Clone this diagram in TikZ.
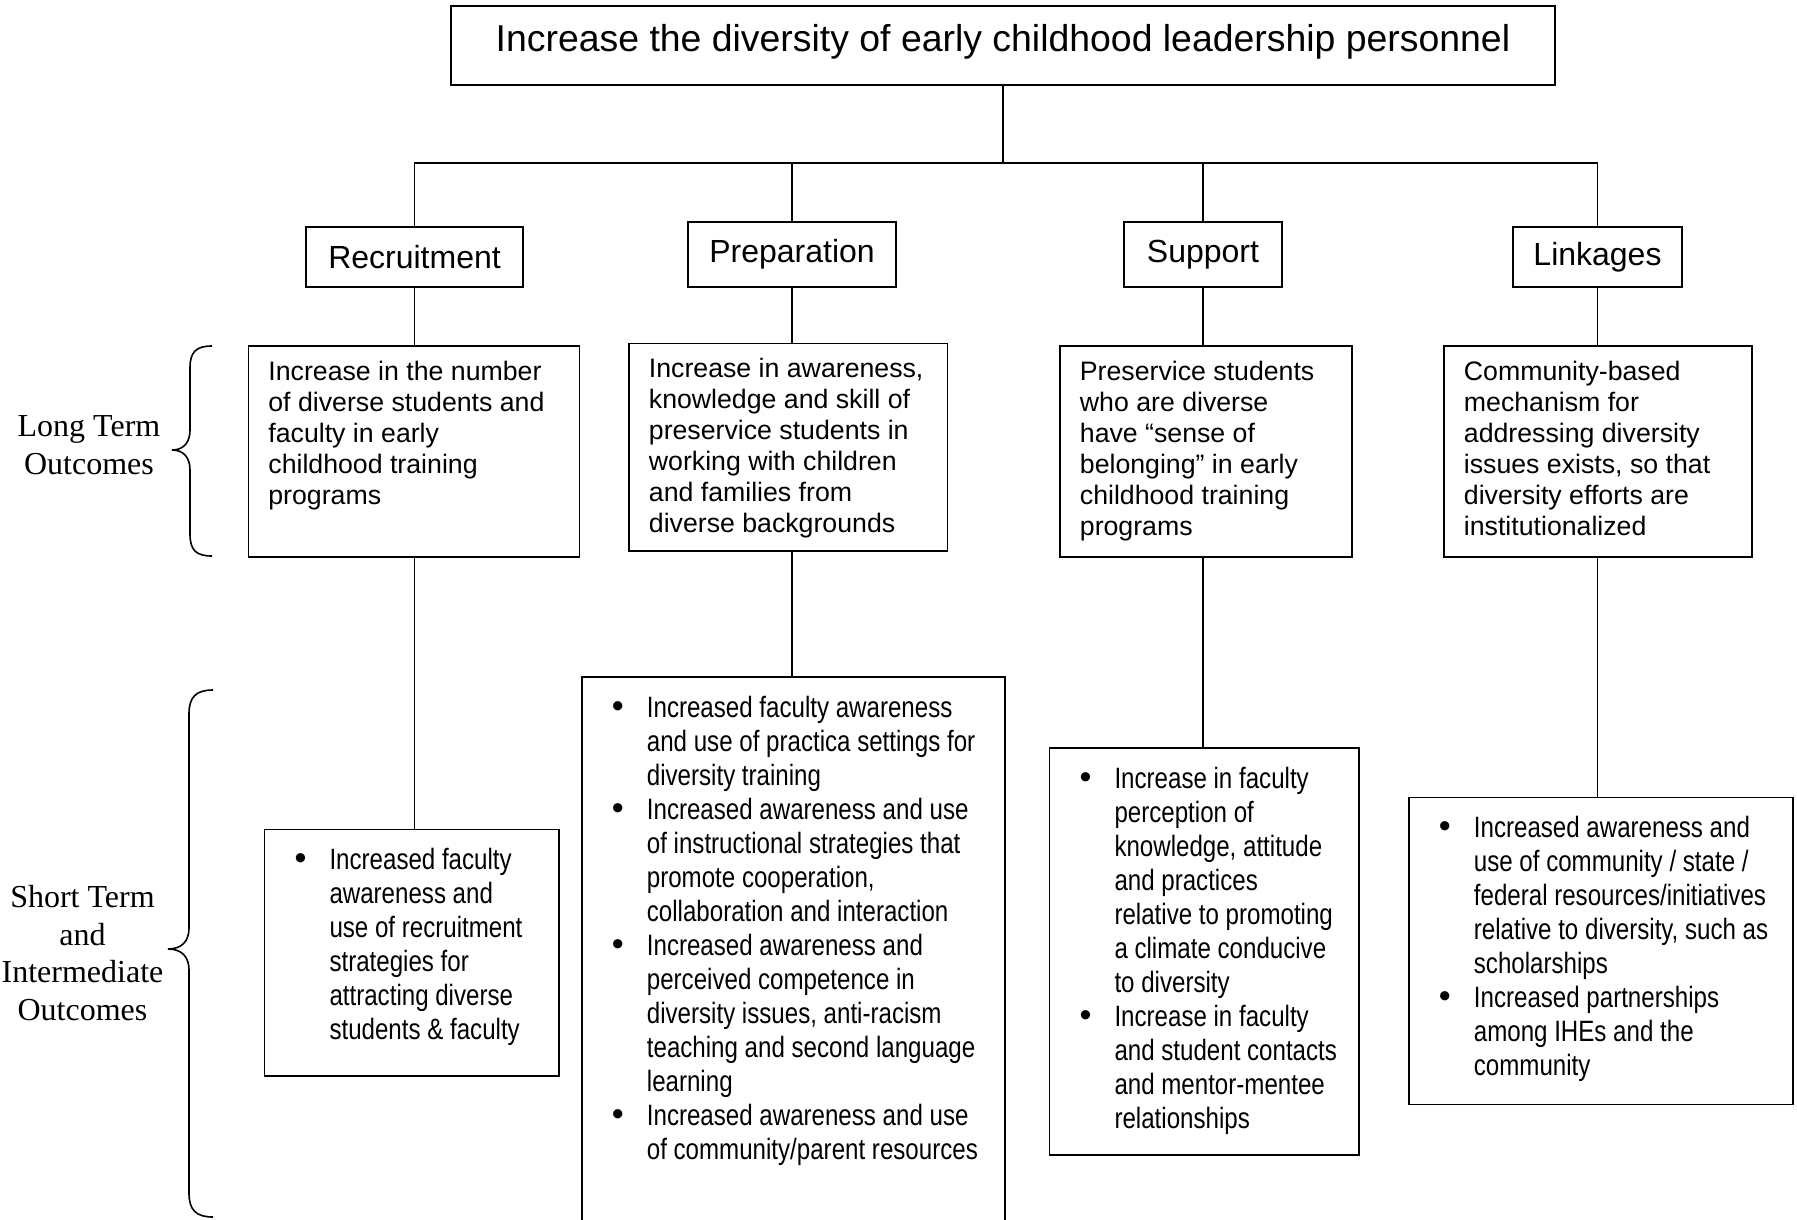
\documentclass[tikz,border=0pt]{standalone}
\usepackage{fontspec}
\setmainfont{Liberation Sans}
\newfontfamily\labelfont{Liberation Serif}
\newfontfamily\narrowfont[FakeStretch=0.82]{Liberation Sans}
\newfontfamily\dotfont{Liberation Sans}
% one bullet point, continuation lines hang under the text
\newcommand{\bitem}[1]{\par\noindent\hangindent=55pt\hangafter=1\makebox[55pt][l]{\hspace{20pt}{\dotfont\fontsize{34}{34}\selectfont\textbullet}}#1\par}
% fixed size text area of an outcome box
\newcommand{\boxtext}[3]{\parbox[t][#1][t]{#2}{#3}}

\begin{document}
\begin{tikzpicture}[x=1pt, y=-1pt,
    goalbox/.style={rectangle, draw, line width=1.8pt, minimum width=1104pt, minimum height=79pt, text depth=16pt, font=\fontsize{37.4}{42}\selectfont},
    catbox/.style={rectangle, draw, line width=1.2pt, font=\fontsize{32}{38}\selectfont},
    outbox/.style={rectangle, draw, line width=1.8pt, anchor=north west, inner xsep=10pt, inner ysep=15pt, font=\fontsize{26.7}{31}\selectfont},
    bulletbox/.style={rectangle, draw, line width=1.8pt, anchor=north west, inner xsep=10pt, inner ysep=19pt, font=\narrowfont\fontsize{29.4}{34}\selectfont},
    termlabel/.style={align=center, font=\labelfont\fontsize{32}{37.5}\selectfont},
    link/.style={line width=1.6pt},
    brace/.style={line width=1.6pt}
]
\clip (0,0) rectangle (1797,1220);
\useasboundingbox (0,0) rectangle (1797,1220);

\node[goalbox] (goal) at (1003,45.5) {Increase the diversity of early childhood leadership personnel};

\node[catbox, minimum width=217pt, minimum height=60pt] (recruit) at (414.5,257) {Recruitment};
\node[catbox, minimum width=208pt, minimum height=65pt] (prep) at (792,254.5) {Preparation};
\node[catbox, minimum width=158pt, minimum height=65pt] (support) at (1203,254.5) {Support};
\node[catbox, minimum width=169pt, minimum height=60pt] (linkage) at (1597.5,257) {Linkages};

% long term outcomes
\node[outbox] (recruit-lt) at (247.5,345) {\boxtext{181pt}{311pt}{\leftskip=10pt\noindent
  Increase in the number\\ of diverse students and\\ faculty in early\\ childhood training\\ programs}};
\node[outbox] (prep-lt) at (628,342.6) {\boxtext{177.4pt}{298.6pt}{\leftskip=10pt\noindent
  Increase in awareness,\\ knowledge and skill of\\ preservice students in\\ working with children\\ and families from\\ diverse backgrounds}};
\node[outbox] (support-lt) at (1059,345) {\boxtext{181pt}{272pt}{\leftskip=10pt\noindent
  Preservice students\\ who are diverse\\ have “sense of\\ belonging” in early\\ childhood training\\ programs}};
\node[outbox] (linkage-lt) at (1443,345) {\boxtext{181pt}{288pt}{\leftskip=10pt\noindent
  Community-based\\ mechanism for\\ addressing diversity\\ issues exists, so that\\ diversity efforts are\\ institutionalized}};

% short term and intermediate outcomes
\node[bulletbox] (recruit-st) at (263.6,828.6) {\boxtext{208.4pt}{274.4pt}{%
  \bitem{Increased faculty\\ awareness and\\ use of recruitment\\ strategies for\\ attracting diverse\\ students \& faculty}}};
\node[bulletbox] (prep-st) at (581,676) {\boxtext{542pt}{403pt}{%
  \bitem{Increased faculty awareness\\ and use of practica settings for\\ diversity training}
  \bitem{Increased awareness and use\\ of instructional strategies that\\ promote cooperation,\\ collaboration and interaction}
  \bitem{Increased awareness and\\ perceived competence in\\ diversity issues, anti-racism\\ teaching and second language\\ learning}
  \bitem{Increased awareness and use\\ of community/parent resources}}};
\node[bulletbox] (support-st) at (1048.6,747) {\boxtext{369pt}{289.4pt}{%
  \bitem{Increase in faculty\\ perception of\\ knowledge, attitude\\ and practices\\ relative to promoting\\ a climate conducive\\ to diversity}
  \bitem{Increase in faculty\\ and student contacts\\ and mentor-mentee\\ relationships}}};
\node[bulletbox] (linkage-st) at (1408,796.5) {\boxtext{269pt}{364pt}{%
  \bitem{Increased awareness and\\ use of community / state /\\ federal resources/initiatives\\ relative to diversity, such as\\ scholarships}
  \bitem{Increased partnerships\\ among IHEs and the\\ community}}};

% tree lines
\coordinate (bus) at (1003,163);
\draw[link] (goal.south) -- (bus);
\draw[link] (recruit.north) |- (bus) -| (linkage.north);
\draw[link] (prep.north) -- (prep.north |- bus);
\draw[link] (support.north) -- (support.north |- bus);
\foreach \n in {recruit, prep, support, linkage} {
  \draw[link] (\n.south) -- (\n.south |- \n-lt.north);
  \draw[link] (\n-lt.south -| \n.south) -- (\n.south |- \n-st.north);
}

% braces and row labels
\draw[brace] (212,346) .. controls (196,346) and (190,352) .. (190,368) -- (190,430)
  .. controls (190,442) and (184,450) .. (172,450) .. controls (184,450) and (190,458) .. (190,470)
  -- (190,534) .. controls (190,550) and (196,556) .. (212,556);
\draw[brace] (213,690) .. controls (196,690) and (189,697) .. (189,714) -- (189,928)
  .. controls (189,941) and (182,949) .. (168,949) .. controls (182,949) and (189,957) .. (189,970)
  -- (189,1193) .. controls (189,1210) and (196,1217) .. (213,1217);

\node[termlabel] (long-label) at (89,445) {Long Term\\Outcomes};
\node[termlabel] (short-label) at (82.5,953) {Short Term\\and\\Intermediate\\Outcomes};
\end{tikzpicture}
\end{document}
